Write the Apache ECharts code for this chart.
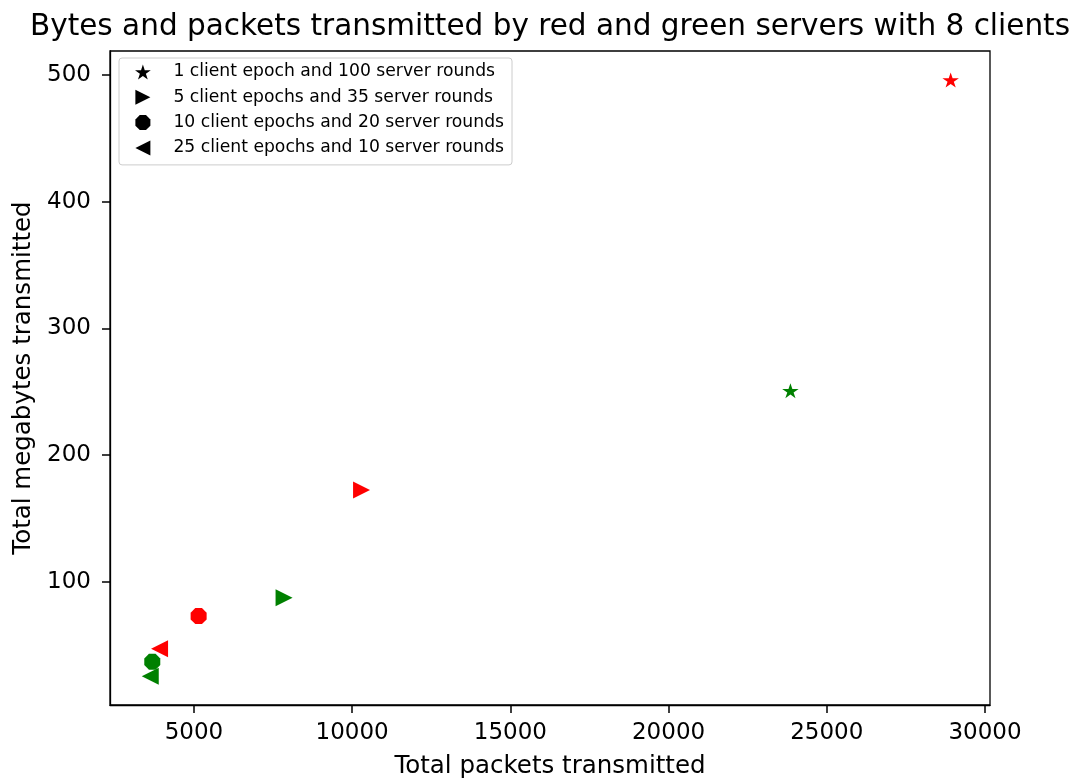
<!DOCTYPE html>
<html>
<head>
<meta charset="utf-8">
<script src="https://cdn.jsdelivr.net/npm/echarts@6/dist/echarts.min.js"></script>
<style>
html,body{margin:0;padding:0;background:#fff;}
#c{width:1079px;height:780px;}
</style>
</head>
<body>
<div id="c"></div>
<script>
const seriesNames = [
  '1 client epoch and 100 server rounds',
  '5 client epochs and 35 server rounds',
  '10 client epochs and 20 server rounds',
  '25 client epochs and 10 server rounds'
];
const redPackets = [28915, 10297, 5149, 3915];
const redMegabytes = [496, 172.4, 72.9, 47.1];
const greenPackets = [23851, 7848, 3684, 3620];
const greenMegabytes = [250.8, 87.4, 36.8, 25.3];
const xTicks = [5000, 10000, 15000, 20000, 25000, 30000];
const yTicks = [100, 200, 300, 400, 500];

const STAR = 'path://M100,0L122.45,69.1L195.1,69.1L136.3,111.8L158.8,180.9L100,138.2L41.2,180.9L63.7,111.8L4.9,69.1L77.55,69.1Z';
const RTRI = 'path://M0,0L20,10L0,20Z';
const OCT = 'path://M138.3,7.6L192.4,61.7L192.4,138.3L138.3,192.4L61.7,192.4L7.6,138.3L7.6,61.7L61.7,7.6Z';
const LTRI = 'path://M20,0L0,10L20,20Z';
const symbols = [STAR, RTRI, OCT, LTRI];
const sizes = [[16.5, 15.7], [17, 17], [16, 16], [17, 17]];

const FONT = 'DejaVu Sans';

const series = seriesNames.map((name, i) => ({
  name: name,
  type: 'scatter',
  symbol: symbols[i],
  symbolSize: sizes[i],
  symbolKeepAspect: true,
  itemStyle: { color: '#000', opacity: 1 },
  emphasis: { disabled: true },
  data: [
    { value: [redPackets[i], redMegabytes[i]], itemStyle: { color: '#ff0000' } },
    { value: [greenPackets[i], greenMegabytes[i]], itemStyle: { color: '#008000' } }
  ]
}));

const chart = echarts.init(document.getElementById('c'), null, { renderer: 'canvas' });
chart.setOption({
  animation: false,
  backgroundColor: '#fff',
  textStyle: { fontFamily: FONT },
  title: {
    text: 'Bytes and packets transmitted by red and green servers with 8 clients',
    left: 545,
    top: 7,
    textAlign: 'center',
    textStyle: { fontFamily: FONT, fontSize: 29.5, fontWeight: 'normal', color: '#000' }
  },
  legend: {
    orient: 'vertical',
    left: 119,
    top: 58,
    padding: [5, 8, 8, 16],
    itemGap: 7.3,
    itemWidth: 51,
    itemHeight: 15,
    selectedMode: false,
    borderColor: '#cccccc',
    borderWidth: 1,
    borderRadius: 3,
    backgroundColor: '#fff',
    textStyle: { fontFamily: FONT, fontSize: 17.2, color: '#000', lineHeight: 18 },
    data: seriesNames
  },
  grid: {
    left: 110, right: 89, top: 51, bottom: 75,
    outerBoundsMode: 'none',
    containLabel: false,
    show: true, borderColor: '#000', borderWidth: 1.3
  },
  xAxis: {
    type: 'value',
    min: 2348,
    max: 30158,
    name: 'Total packets transmitted',
    nameLocation: 'middle',
    nameGap: 49,
    nameTextStyle: { fontFamily: FONT, fontSize: 24.5, color: '#000' },
    axisLine: { show: true, lineStyle: { color: '#000', width: 1.3 } },
    axisTick: { show: true, customValues: xTicks, length: 8, lineStyle: { color: '#000', width: 1.5 } },
    axisLabel: { customValues: xTicks, formatter: v => String(v), fontFamily: FONT, fontSize: 23, color: '#000', margin: 17 },
    splitLine: { show: false }
  },
  yAxis: {
    type: 'value',
    min: 2.7,
    max: 518.9,
    name: 'Total megabytes transmitted',
    nameLocation: 'middle',
    nameGap: 73,
    nameTextStyle: { fontFamily: FONT, fontSize: 24.5, color: '#000' },
    axisLine: { show: true, lineStyle: { color: '#000', width: 1.3 } },
    axisTick: { show: true, customValues: yTicks, length: 8, lineStyle: { color: '#000', width: 1.5 } },
    axisLabel: { customValues: yTicks, formatter: v => String(v), fontFamily: FONT, fontSize: 23, color: '#000', margin: 19 },
    splitLine: { show: false }
  },
  series: series
});
</script>
</body>
</html>
